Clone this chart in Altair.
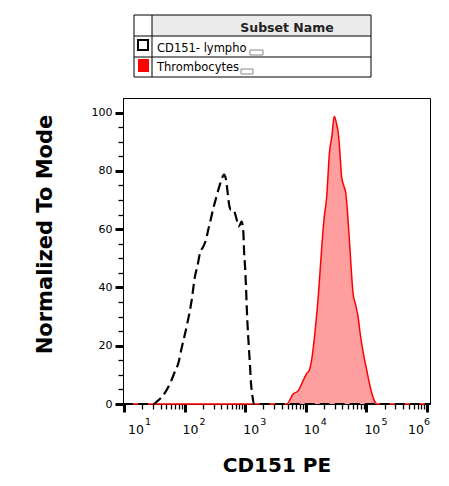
import altair as alt
import pandas as pd

# ---------------- data ----------------
# CD151- lympho : log10(intensity) and normalized-to-mode value
lympho_exp = [0.983, 1.484, 1.54, 1.677, 1.76, 1.84, 1.896, 1.95, 2.045, 2.117, 2.17, 2.21,
              2.254, 2.31, 2.353, 2.39, 2.43, 2.474, 2.52, 2.573, 2.61, 2.65, 2.683, 2.705,
              2.74, 2.766, 2.804, 2.83, 2.86, 2.886, 2.914, 2.94, 2.97, 2.98, 2.997, 3.013,
              3.025, 3.04, 3.063, 3.08, 3.096, 3.117, 3.145, 6.05]
lympho_val = [0, 0, 0.8, 3.9, 7.1, 11.1, 14, 19.1, 27.7, 35.7, 43.7, 47.2,
              51.8, 54.1, 56.4, 59.8, 63.2, 67.2, 70.7, 74.7, 77, 78.7, 77, 73.5,
              67.8, 66.7, 66.7, 65.5, 63.2, 60.9, 61.5, 62.6, 58.7, 52.9, 47.2, 40.3,
              33.4, 26.6, 18.6, 12.9, 7.1, 3.1, 0, 0]

# Thrombocytes
thromb_exp = [0.983, 3.685, 3.79, 3.876, 3.96, 4.015, 4.06, 4.097, 4.15, 4.21, 4.26, 4.30,
              4.345, 4.39, 4.43, 4.47, 4.51, 4.536, 4.564, 4.59, 4.63, 4.66, 4.685, 4.73,
              4.78, 4.83, 4.87, 4.89, 4.95, 5.005, 5.05, 5.09, 5.14, 5.17, 6.05]
thromb_val = [0, 0, 3.4, 4.6, 8.2, 10.5, 11.7, 15.1, 24.3, 38, 52.9, 63.2,
              71.2, 86.1, 91.8, 98.7, 95.9, 93, 86.1, 78.1, 74.7, 72.4, 66.7, 52.9,
              38, 33.4, 28.9, 25.4, 17.4, 11.7, 7.1, 3.7, 0.8, 0, 0]

subset_names = ["CD151- lympho", "Thrombocytes"]
subset_colors = ["#000000", "#FF0000"]
legend_header = "Subset Name"

x_title = "CD151 PE"
y_title = "Normalized To Mode"
decade_exps = [1, 2, 3, 4, 5, 6]
y_major = [0, 20, 40, 60, 80, 100]
y_minor = [5, 10, 15, 25, 30, 35, 45, 50, 55, 65, 70, 75, 85, 90, 95]
x_domain_exp = [0.983, 6.05]
y_domain = [0, 105]

# ---------------- tables ----------------
lympho = pd.DataFrame({"x": [10 ** e for e in lympho_exp], "y": lympho_val})
thromb = pd.DataFrame({"x": [10 ** e for e in thromb_exp], "y": thromb_val})
ticks_df = pd.DataFrame({"v": [10 ** e for e in decade_exps],
                         "base": ["10"] * len(decade_exps),
                         "exp": [str(e) for e in decade_exps],
                         "k": decade_exps})
x_major = [10 ** e for e in decade_exps]
x_minor = [k * 10 ** d for d in range(1, 6) for k in range(2, 10)]
one = pd.DataFrame({"a": [0]})

W, H = 307, 306
FONT = "DejaVu Sans"
xscale = alt.Scale(type="log", domain=[10 ** x_domain_exp[0], 10 ** x_domain_exp[1]], nice=False)
yscale = alt.Scale(domain=y_domain, nice=False, zero=False)

area = alt.Chart(thromb).mark_area(color="#FF9E9E", opacity=1, interpolate="monotone").encode(
    x=alt.X("x:Q", scale=xscale, axis=alt.Axis(
        orient="bottom", values=x_major, labels=False, tickSize=8, tickWidth=3,
        tickColor="black", domainColor="black", domainWidth=1, grid=False,
        title=x_title, titleFont=FONT, titleFontSize=20, titleFontWeight="bold",
        titleColor="black", titleY=67, titleBaseline="alphabetic")),
    y=alt.Y("y:Q", scale=yscale, axis=alt.Axis(
        orient="left", values=y_major, tickSize=8, tickWidth=3, tickColor="black",
        labelFont=FONT, labelFontSize=11, labelColor="black", labelPadding=3,
        domainColor="black", domainWidth=1, grid=False,
        title=y_title, titleFont=FONT, titleFontSize=21, titleFontWeight="bold",
        titleColor="black", titleX=-72, titleY=136, titleAngle=270,
        titleBaseline="alphabetic")),
)

red_line = alt.Chart(thromb).mark_line(color="#FF0000", strokeWidth=1.5, interpolate="monotone").encode(
    x=alt.X("x:Q", scale=xscale, axis=alt.Axis(
        orient="bottom", values=x_minor, labels=False, tickSize=5, tickWidth=1.3,
        tickColor="black", domain=False, grid=False, title=None)),
    y=alt.Y("y:Q", scale=yscale, axis=alt.Axis(
        orient="left", values=y_minor, labels=False, tickSize=5, tickWidth=1.3,
        tickColor="black", domain=False, grid=False, title=None)),
)

black_line = alt.Chart(lympho).mark_line(color="black", strokeWidth=2.2, strokeDash=[10, 5],
                                         interpolate="monotone").encode(
    x=alt.X("x:Q", scale=xscale, axis=None),
    y=alt.Y("y:Q", scale=yscale, axis=None),
)


def tick_text(filt, field, dx, ypix, size):
    return alt.Chart(ticks_df).transform_filter(filt).mark_text(
        align="left", baseline="alphabetic", dx=dx, font=FONT, fontSize=size, color="black"
    ).encode(x=alt.X("v:Q", scale=xscale, axis=None), y=alt.value(ypix), text=f"{field}:N")


labels = [
    tick_text("datum.k == 1", "base", 4, H + 30, 12.5),
    tick_text("datum.k == 1", "exp", 21, H + 21, 9.5),
    tick_text("datum.k > 1 && datum.k < 6", "base", -2, H + 30, 12.5),
    tick_text("datum.k > 1 && datum.k < 6", "exp", 15, H + 21, 9.5),
    tick_text("datum.k == 6", "base", -19, H + 30, 12.5),
    tick_text("datum.k == 6", "exp", -3, H + 21, 9.5),
]

# ---------------- legend table (above the plot) ----------------
lx0, lx1, ldiv = 11, 248, 29
ly0, lyh, ly1, ly2 = -83, -62, -41, -21

legend = [
    alt.Chart(one).mark_rect(fill="#ececec").encode(
        x=alt.value(ldiv), x2=alt.value(lx1), y=alt.value(ly0), y2=alt.value(lyh)),
    alt.Chart(one).mark_rect(fillOpacity=0, stroke="black", strokeWidth=1).encode(
        x=alt.value(lx0), x2=alt.value(lx1), y=alt.value(ly0), y2=alt.value(ly2)),
    alt.Chart(one).mark_rule(color="black", strokeWidth=1).encode(
        x=alt.value(lx0), x2=alt.value(lx1), y=alt.value(lyh)),
    alt.Chart(one).mark_rule(color="black", strokeWidth=1).encode(
        x=alt.value(lx0), x2=alt.value(lx1), y=alt.value(ly1)),
    alt.Chart(one).mark_rule(color="black", strokeWidth=1).encode(
        x=alt.value(ldiv), y=alt.value(ly0), y2=alt.value(ly2)),
    alt.Chart(one).mark_text(text=legend_header, align="center", baseline="alphabetic",
                             font=FONT, fontSize=12.5, fontWeight="bold", color="#222222").encode(
        x=alt.value(164), y=alt.value(-66)),
    # row 1: open square
    alt.Chart(one).mark_rect(fill="white", stroke=subset_colors[0], strokeWidth=2).encode(
        x=alt.value(15), x2=alt.value(25), y=alt.value(-58), y2=alt.value(-48)),
    alt.Chart(one).mark_text(text=subset_names[0], align="left", baseline="alphabetic",
                             font=FONT, fontSize=11.5, color="black").encode(
        x=alt.value(34), y=alt.value(-46)),
    alt.Chart(one).mark_rect(fillOpacity=0, stroke="#888888", strokeWidth=1).encode(
        x=alt.value(127), x2=alt.value(140), y=alt.value(-48), y2=alt.value(-43)),
    # row 2: filled square
    alt.Chart(one).mark_rect(fill=subset_colors[1]).encode(
        x=alt.value(15), x2=alt.value(26), y=alt.value(-39), y2=alt.value(-26)),
    alt.Chart(one).mark_text(text=subset_names[1], align="left", baseline="alphabetic",
                             font=FONT, fontSize=11.5, color="black").encode(
        x=alt.value(34), y=alt.value(-27)),
    alt.Chart(one).mark_rect(fillOpacity=0, stroke="#888888", strokeWidth=1).encode(
        x=alt.value(118), x2=alt.value(130), y=alt.value(-29), y2=alt.value(-24)),
]

chart = alt.layer(area, red_line, black_line, *labels, *legend).resolve_axis(
    x="independent", y="independent"
).properties(
    width=W, height=H,
    padding={"left": 115, "top": 90, "right": 11, "bottom": 74},
    autosize=alt.AutoSizeParams(type="none"),
    background="white",
).configure_view(stroke="black", strokeWidth=1)

chart.save("out.html", embed_options={"renderer": "svg", "actions": False})
